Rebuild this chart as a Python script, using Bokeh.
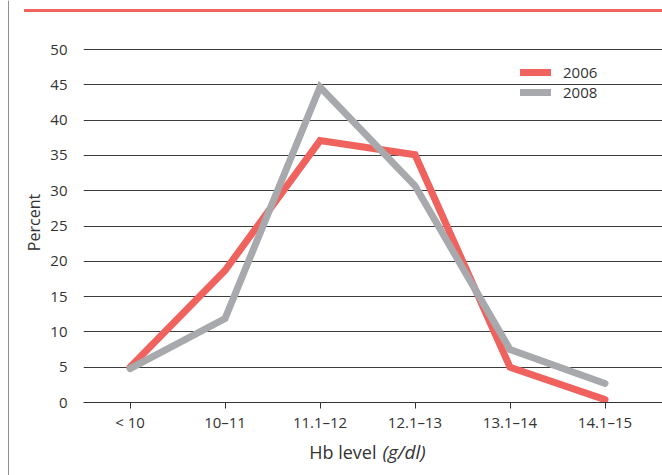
from bokeh.plotting import figure
from bokeh.layouts import row, column
from bokeh.models import (Range1d, FixedTicker, Legend, LegendItem, Label, BoxAnnotation, Div)
from bokeh.embed import file_html
from bokeh.resources import INLINE

# ---- data ----
categories = ["< 10", "10\u201311", "11.1\u201312", "12.1\u201313", "13.1\u201314", "14.1\u201315"]
series_2006 = [5.0, 18.7, 37.1, 35.1, 5.0, 0.4]
series_2008 = [4.8, 11.9, 44.7, 30.7, 7.5, 2.7]
y_ticks = [0, 5, 10, 15, 20, 25, 30, 35, 40, 45, 50]
series_names = ["2006", "2008"]
x_title = "Hb level"
x_unit = "(g/dl)"
y_title = "Percent"

RED = "#f0625d"
GRAY = "#a7a9ac"
TXT = "#333333"
FONT = "Open Sans"


def blank(width, height, xr, yr):
    f = figure(width=width, height=height, output_backend="svg", toolbar_location=None,
               x_axis_location=None, y_axis_location=None, min_border=0,
               x_range=xr, y_range=yr)
    f.min_border_left = f.min_border_right = f.min_border_top = f.min_border_bottom = 0
    f.outline_line_color = None
    f.grid.visible = False
    return f


# ---- left frame line ----
left = blank(9, 475, Range1d(0, 9), Range1d(0, 1))
left.add_layout(BoxAnnotation(left=8, right=9, fill_color="#222222", fill_alpha=1,
                              line_color=None))

# ---- red rule at top ----
top = Div(text="", width=638, height=3, margin=(9, 0, 8, 15),
          styles={"background-color": RED})

# ---- main chart ----
xs = list(range(len(categories)))
p = figure(width=653, height=420, output_backend="svg", toolbar_location=None,
           x_range=Range1d(-0.49, 5.605), y_range=Range1d(0, 51),
           min_border_left=74, min_border_right=0, min_border_top=22,
           min_border_bottom=38)
p.outline_line_color = None

p.xgrid.grid_line_color = None
p.ygrid.grid_line_color = "#3c3c3c"
p.ygrid.grid_line_width = 1
p.yaxis.ticker = FixedTicker(ticks=y_ticks)
p.xaxis.ticker = FixedTicker(ticks=xs)
p.xaxis.major_label_overrides = {i: c for i, c in zip(xs, categories)}

p.yaxis.axis_line_color = None
p.yaxis.major_tick_line_color = None
p.yaxis.minor_tick_line_color = None
p.yaxis.major_tick_out = 0
p.yaxis.major_tick_in = 0
p.yaxis.major_label_standoff = 16
p.yaxis.major_label_text_font = FONT
p.yaxis.major_label_text_font_size = "15px"
p.yaxis.major_label_text_color = TXT
p.yaxis.axis_label = y_title
p.yaxis.axis_label_text_font = FONT
p.yaxis.axis_label_text_font_size = "16px"
p.yaxis.axis_label_text_font_style = "normal"
p.yaxis.axis_label_text_color = TXT
p.yaxis.axis_label_standoff = 2

p.xaxis.axis_line_color = "#333333"
p.xaxis.axis_line_width = 1
p.xaxis.major_tick_line_color = "#333333"
p.xaxis.major_tick_out = 6
p.xaxis.major_tick_in = 0
p.xaxis.minor_tick_line_color = None
p.xaxis.major_label_standoff = 3
p.xaxis.major_label_text_font = FONT
p.xaxis.major_label_text_font_size = "15px"
p.xaxis.major_label_text_color = TXT

r06 = p.line(xs, series_2006, line_width=7, line_color=RED,
             line_join="miter", line_cap="round")
r08 = p.line(xs, series_2008, line_width=7, line_color=GRAY,
             line_join="miter", line_cap="round")

legend = Legend(items=[LegendItem(label=series_names[0], renderers=[r06]),
                       LegendItem(label=series_names[1], renderers=[r08])],
                location=(437, 300), orientation="vertical",
                glyph_width=31, glyph_height=20, label_height=20,
                label_standoff=12, spacing=-8, padding=0, margin=0,
                background_fill_alpha=0, border_line_color=None,
                label_text_font=FONT, label_text_font_size="15px",
                label_text_color=TXT)
p.add_layout(legend, "center")

# ---- x axis title (frame of this strip is aligned with the chart frame) ----
bottom = blank(653, 35, Range1d(0, 1), Range1d(0, 1))
bottom.add_layout(Label(x=293, y=24, x_units="screen", y_units="screen",
                        text=x_title, text_align="right", text_baseline="alphabetic",
                        text_font=FONT, text_font_size="18px", text_color=TXT))
bottom.add_layout(Label(x=299, y=24, x_units="screen", y_units="screen",
                        text=x_unit, text_align="left", text_baseline="alphabetic",
                        text_font=FONT, text_font_size="19px", text_font_style="italic",
                        text_color=TXT))

layout = row(left, column(top, p, bottom, spacing=0), spacing=0)
open("out.html", "w").write(file_html(layout, INLINE))
